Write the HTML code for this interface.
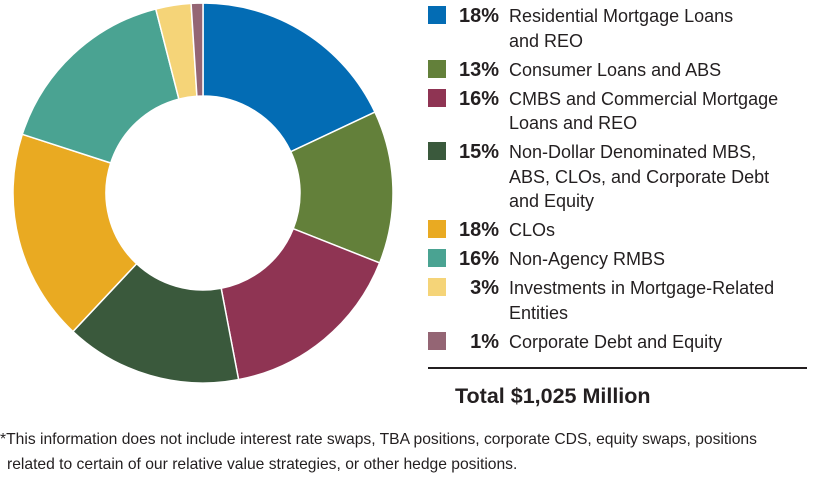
<!DOCTYPE html>
<html><head><meta charset="utf-8"><style>
body{margin:0;width:820px;height:477px;background:#fff;overflow:hidden;position:relative;font-family:"Liberation Sans Narrow","Liberation Sans",sans-serif;color:#231f20}
.sw{position:absolute;left:428px;width:18px;height:18px}
.pct{position:absolute;left:440px;width:59px;text-align:right;font-weight:bold;font-size:20px;line-height:24px}
.lab{position:absolute;left:509px;font-size:18px;line-height:24.5px;white-space:nowrap}
.foot{position:absolute;left:0;font-size:15.65px;white-space:nowrap}
</style></head><body>
<svg id="chart" width="410" height="390" style="position:absolute;left:0;top:0"></svg>
<div id="legend"></div>
<div style="position:absolute;left:428px;top:367px;width:379px;height:1.5px;background:#231f20"></div>
<div style="position:absolute;left:455px;top:384px;font-size:21.5px;font-weight:bold;white-space:nowrap">Total $1,025 Million</div>
<div class="foot" style="top:431px">*This information does not include interest rate swaps, TBA positions, corporate CDS, equity swaps, positions</div>
<div class="foot" style="top:456px;left:7px">related to certain of our relative value strategies, or other hedge positions.</div>
<script>
const categories=["Residential Mortgage Loans and REO","Consumer Loans and ABS","CMBS and Commercial Mortgage Loans and REO","Non-Dollar Denominated MBS, ABS, CLOs, and Corporate Debt and Equity","CLOs","Non-Agency RMBS","Investments in Mortgage-Related Entities","Corporate Debt and Equity"];
const values=[18,13,16,15,18,16,3,1];
const colors=["#036cb4","#63803a","#8f3453","#3a593c","#e9aa22","#4aa392","#f5d478","#946574"];
const labelLines=[["Residential Mortgage Loans","and REO"],["Consumer Loans and ABS"],["CMBS and Commercial Mortgage","Loans and REO"],["Non-Dollar Denominated MBS,","ABS, CLOs, and Corporate Debt","and Equity"],["CLOs"],["Non-Agency RMBS"],["Investments in Mortgage-Related","Entities"],["Corporate Debt and Equity"]];
const NS="http://www.w3.org/2000/svg";
const svg=document.getElementById('chart');
const cx=203,cy=193,R=190,r=97;
const total=values.reduce((a,b)=>a+b,0);
function pt(a,rad){return [cx+rad*Math.sin(a),cy-rad*Math.cos(a)];}
let acc=0;
values.forEach((v,i)=>{
  const a0=acc/total*2*Math.PI; acc+=v; const a1=acc/total*2*Math.PI;
  const large=(a1-a0)>Math.PI?1:0;
  const p0=pt(a0,R),p1=pt(a1,R),q1=pt(a1,r),q0=pt(a0,r);
  const p=document.createElementNS(NS,'path');
  p.setAttribute('d',`M${p0[0]},${p0[1]}A${R},${R} 0 ${large} 1 ${p1[0]},${p1[1]}L${q1[0]},${q1[1]}A${r},${r} 0 ${large} 0 ${q0[0]},${q0[1]}Z`);
  p.setAttribute('fill',colors[i]);p.setAttribute('stroke','#fff');p.setAttribute('stroke-width','1.5');
  
  
  svg.appendChild(p);
});
const leg=document.getElementById('legend');
let y=3;
categories.forEach((c,i)=>{
  const sw=document.createElement('div');sw.className='sw';sw.style.top=(y+3)+'px';sw.style.background=colors[i];
  
  
  const pc=document.createElement('div');pc.className='pct';pc.style.top=(y+1)+'px';pc.textContent=values[i]+'%';
  
  
  const lb=document.createElement('div');lb.className='lab';lb.style.top=(y+1)+'px';lb.innerHTML=labelLines[i].join('<br>');
  
  
  leg.appendChild(sw);leg.appendChild(pc);leg.appendChild(lb);
  y+=labelLines[i].length*24.5+4.5;
});
</script>
</body></html>
